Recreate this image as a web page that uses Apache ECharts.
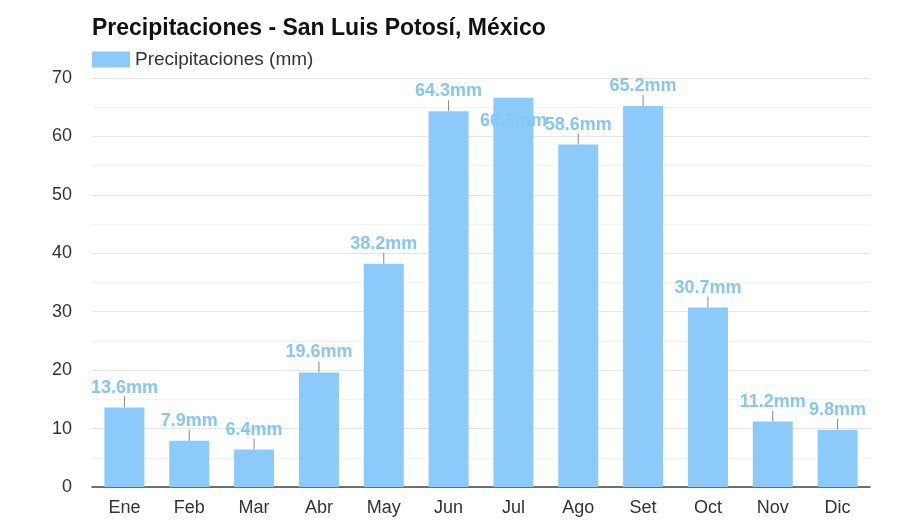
<!DOCTYPE html>
<html>
<head>
<meta charset="utf-8">
<script src="https://cdn.jsdelivr.net/npm/echarts@6/dist/echarts.min.js"></script>
<style>
  html, body { margin: 0; padding: 0; background: #fff; }
  #chart { width: 904px; height: 521px; }
</style>
</head>
<body>
<div id="chart"></div>
<script>
const months = ['Ene', 'Feb', 'Mar', 'Abr', 'May', 'Jun', 'Jul', 'Ago', 'Set', 'Oct', 'Nov', 'Dic']
const rainMm = [13.6, 7.9, 6.4, 19.6, 38.2, 64.3, 66.6, 58.6, 65.2, 30.7, 11.2, 9.8]
const seriesName = 'Precipitaciones (mm)'
// label pushed down into the bar (it collides with its neighbours in the original)
const pushedDown = ['Jul']

const font = 'Liberation Sans, Arial, sans-serif'
const chart = echarts.init(document.getElementById('chart'))

const option = {
  animation: false,
  backgroundColor: '#fff',
  title: {
    text: 'Precipitaciones - San Luis Potosí, México',
    left: 87,
    top: 12,
    textStyle: { fontSize: 23, fontWeight: 'bold', color: '#111', fontFamily: font }
  },
  legend: {
    data: [seriesName],
    left: 87,
    top: 45,
    icon: 'rect',
    itemWidth: 38,
    itemHeight: 16,
    itemGap: 8,
    textStyle: { fontSize: 19, color: '#333', fontFamily: font }
  },
  grid: {
    left: 92,
    right: 34,
    top: 78,
    bottom: 34
  },
  xAxis: {
    type: 'category',
    data: months,
    axisLine: { lineStyle: { color: '#444', width: 1.5 } },
    axisTick: { show: false },
    axisLabel: { fontSize: 18, color: '#333', margin: 12, fontFamily: font }
  },
  yAxis: {
    type: 'value',
    min: 0,
    max: 70,
    interval: 10,
    axisLine: { show: false },
    axisTick: { show: false },
    axisLabel: { fontSize: 18, color: '#333', margin: 20, fontFamily: font },
    splitLine: { lineStyle: { color: '#e6e6e6' } },
    minorTick: { show: false, splitNumber: 2 },
    minorSplitLine: { show: true, lineStyle: { color: '#f3f3f3' } }
  },
  series: [{
    name: seriesName,
    type: 'bar',
    data: rainMm,
    barWidth: 40,
    itemStyle: { color: '#8ccbf9' },
    label: {
      show: true,
      position: 'top',
      distance: 0,
      formatter: p => p.value + 'mm',
      color: '#86c6f7',
      fontSize: 18,
      fontWeight: 'bold',
      fontFamily: font
    },
    labelLayout: p => (pushedDown.includes(months[p.dataIndex]) ? { dy: 32 } : { dy: -11 }),
    labelLine: { show: true, lineStyle: { color: '#888', width: 1 } }
  }]
}

chart.setOption(option)
</script>
</body>
</html>
